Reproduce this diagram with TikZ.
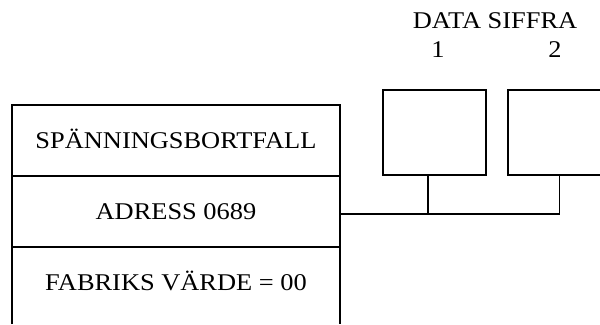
\documentclass[tikz,border=0pt]{standalone}
\usepackage{fontspec}
\setmainfont[FakeStretch=1.1]{Liberation Serif}
\usetikzlibrary{positioning}

\tikzset{
  wire/.style={line width=1.7bp},
  rowtext/.style={minimum width=328bp, minimum height=71bp, inner sep=0pt,
    text height=16bp, text depth=0pt},
  digitbox/.style={draw, line width=1.7bp, minimum width=103bp, minimum height=85bp, inner sep=0pt},
  headtext/.style={inner sep=0pt, text height=16bp, text depth=0pt}
}

\begin{document}
\begin{tikzpicture}[x=1bp, y=-1bp, font=\fontsize{24bp}{28bp}\selectfont]
  \useasboundingbox (0,0) rectangle (600,324);
  % left register
  \node[rowtext] (spann) at (176,140.5) {SPÄNNINGSBORTFALL};
  \node[rowtext] (adress) at (176,211.5) {ADRESS 0689};
  \node[rowtext] (fabrik) at (176,282) {FABRIKS VÄRDE = 00};
  \draw[wire] (spann.west |- 0,324) -- (spann.north west) -- (spann.north east) -- (spann.east |- 0,324);
  \draw[wire] (spann.south west) -- (spann.south east);
  \draw[wire] (adress.south west) -- (adress.south east);
  % data digits
  \node[headtext] (title) at (495,20.5) {DATA SIFFRA};
  \node[headtext] (one) at (438,49.5) {1};
  \node[headtext] (two) at (555,49.5) {2};
  \node[digitbox] (digA) at (434.5,132.5) {};
  \node[digitbox] (digB) at (559.5,132.5) {};
  % bus
  \coordinate (bus) at ([yshift=-2.5bp]adress.east);
  \draw[wire] (bus) -- (bus -| digB.south) -- (digB.south);
  \draw[wire] ([xshift=-6.5bp]digA.south) -- ([xshift=-6.5bp]digA.south |- bus);
\end{tikzpicture}
\end{document}
